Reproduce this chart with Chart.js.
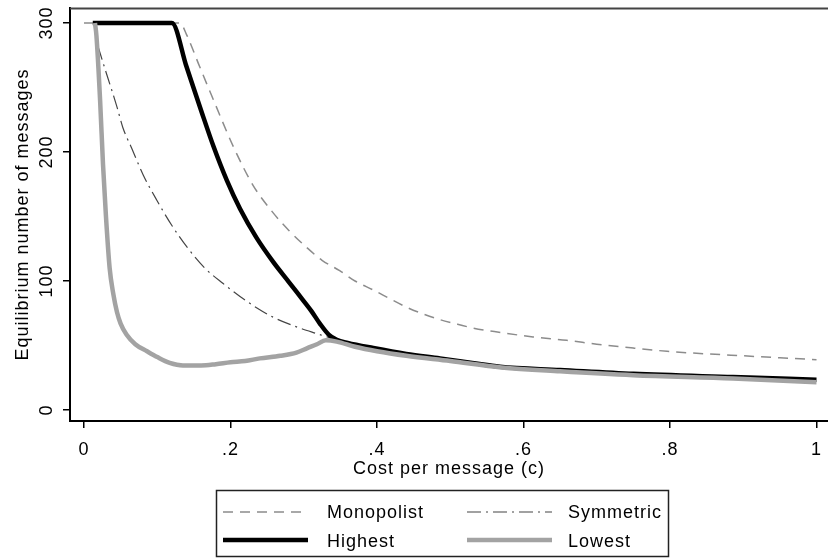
<!DOCTYPE html>
<html>
<head>
<meta charset="utf-8">
<script src="https://cdn.jsdelivr.net/npm/chart.js@4.4.1/dist/chart.umd.min.js"></script>
<style>
    body { margin: 0; background: #fff; }
    #wrap { width: 828px; height: 559px; }
</style>
</head>
<body>
<div id="wrap"><canvas id="chart" width="828" height="559"></canvas></div>
<script>
// values
var monoC = [0, 0.131, 0.14, 0.158, 0.177, 0.204, 0.231, 0.258, 0.28, 0.304, 0.325, 0.349, 0.37, 0.395, 0.42, 0.441, 0.465, 0.486, 0.51, 0.531, 0.57, 0.613, 0.659, 0.7, 0.75, 0.796, 0.85, 0.9, 0.95, 1.0];
var monoV = [300, 300, 291, 266, 240, 204, 174, 153, 139, 126, 116, 108, 100, 93, 85.5, 79.5, 74, 70, 66.5, 63.5, 60, 56.6, 54, 51, 48, 45.5, 43.5, 42, 40.5, 39];

var symC = [0.019, 0.03, 0.045, 0.053, 0.065, 0.081, 0.1, 0.12, 0.141, 0.165, 0.19, 0.213, 0.235, 0.258, 0.285, 0.313, 0.33, 0.36, 0.395, 0.44, 0.486, 0.568, 0.65, 0.75, 0.886, 1.0];
var symV = [282, 262, 235, 219, 203, 182, 162, 143, 126, 110, 98, 88, 79.5, 72, 65.5, 60, 57, 51.5, 48, 43.5, 40, 33.5, 31, 28, 25.5, 23.5];

var highC = [0.012, 0.12, 0.14, 0.16, 0.177, 0.195, 0.213, 0.235, 0.258, 0.28, 0.295, 0.31, 0.322, 0.334, 0.345, 0.36, 0.395, 0.44, 0.486, 0.53, 0.568, 0.65, 0.75, 0.886, 1.0];
var highV = [300, 300, 266, 232, 204, 178, 156, 134, 115, 99, 88, 77, 67, 58.5, 54.5, 52, 48, 43.5, 40, 36.5, 33.5, 31, 28, 25.5, 23.5];

var lowC = [0.015, 0.017, 0.022, 0.026, 0.03, 0.035, 0.04, 0.045, 0.05, 0.058, 0.07, 0.086, 0.1, 0.117, 0.135, 0.16, 0.18, 0.2, 0.22, 0.24, 0.268, 0.29, 0.305, 0.318, 0.33, 0.345, 0.37, 0.4, 0.44, 0.5, 0.57, 0.65, 0.75, 0.886, 1.0];
var lowV = [300, 290, 240, 190, 150, 110, 90, 76, 67, 58.5, 51, 45.5, 41, 36.5, 34.5, 34.5, 35.5, 37, 38, 40, 42, 44.5, 48, 51, 54, 53, 49, 45.5, 42, 38, 33, 30, 27, 24.5, 21.5];

var xTicks = [0, 0.2, 0.4, 0.6, 0.8, 1];
var xLabels = ['0', '.2', '.4', '.6', '.8', '1'];
var yTicks = [0, 100, 200, 300];
var yLabels = ['0', '100', '200', '300'];

var FONT = '18px "Liberation Sans", Arial, sans-serif';

function pts(cs, vs) {
    return cs.map(function(c, i) { return { x: c, y: vs[i] }; });
}

// styles shared by the plot and the legend
var styles = {
    mono: { color: '#8c8c8c', width: 1.5, dash: [10, 7] },
    sym: { color: '#444', width: 1.2, dash: [14, 5, 2, 5] },
    high: { color: '#000', width: 4.5, dash: [] },
    low: { color: '#a3a3a3', width: 4.5, dash: [] }
};

function sample(ctx, st, x1, x2, y) {
    ctx.save();
    ctx.strokeStyle = st.color;
    ctx.lineWidth = st.width;
    ctx.setLineDash(st.dash);
    ctx.beginPath();
    ctx.moveTo(x1, y);
    ctx.lineTo(x2, y);
    ctx.stroke();
    ctx.restore();
}

var stataText = {
    id: 'stataText',
    afterDraw: function(chart) {
        var ctx = chart.ctx;
        var xs = chart.scales.x, ys = chart.scales.y, a = chart.chartArea;
        ctx.save();

        // top border of plot region
        ctx.strokeStyle = '#444';
        ctx.lineWidth = 2;
        ctx.beginPath();
        ctx.moveTo(a.left, a.top + 0.5);
        ctx.lineTo(chart.width, a.top + 0.5);
        ctx.stroke();

        ctx.letterSpacing = '1px';
        ctx.font = FONT;
        ctx.fillStyle = '#000';
        ctx.textBaseline = 'alphabetic';

        // y tick labels, turned
        yTicks.forEach(function(v, i) {
            ctx.save();
            ctx.translate(52, ys.getPixelForValue(v));
            ctx.rotate(-Math.PI / 2);
            ctx.textAlign = 'center';
            ctx.fillText(yLabels[i], 0, 0);
            ctx.restore();
        });

        // y title
        ctx.save();
        ctx.translate(28, (a.top + a.bottom) / 2);
        ctx.rotate(-Math.PI / 2);
        ctx.textAlign = 'center';
        ctx.fillText('Equilibrium number of messages', 0, 0);
        ctx.restore();

        // x tick labels + title
        ctx.textAlign = 'center';
        xTicks.forEach(function(v, i) {
            ctx.fillText(xLabels[i], xs.getPixelForValue(v), 455);
        });
        ctx.fillText('Cost per message (c)', (a.left + chart.width) / 2, 474);

        // legend
        ctx.strokeStyle = '#222';
        ctx.lineWidth = 1.5;
        ctx.strokeRect(216.5, 490.5, 452, 66);
        sample(ctx, styles.mono, 223, 308, 512);
        sample(ctx, styles.sym, 467, 552, 512);
        sample(ctx, styles.high, 223, 308, 540);
        sample(ctx, styles.low, 467, 552, 540);
        ctx.textAlign = 'left';
        ctx.fillText('Monopolist', 327, 518);
        ctx.fillText('Symmetric', 568, 518);
        ctx.fillText('Highest', 327, 547);
        ctx.fillText('Lowest', 568, 547);

        ctx.restore();
    }
};

function ds(label, data, st, order) {
    return {
        label: label,
        data: data,
        borderColor: st.color,
        borderWidth: st.width,
        borderDash: st.dash,
        pointRadius: 0,
        fill: false,
        cubicInterpolationMode: 'monotone',
        order: order
    };
}

new Chart(document.getElementById('chart'), {
    type: 'line',
    data: {
        datasets: [
            ds('Monopolist', pts(monoC, monoV), styles.mono, 4),
            ds('Symmetric', pts(symC, symV), styles.sym, 3),
            ds('Highest', pts(highC, highV), styles.high, 2),
            ds('Lowest', pts(lowC, lowV), styles.low, 1)
        ]
    },
    options: {
        responsive: false,
        animation: false,
        layout: { padding: { top: 8, right: 0, left: 0, bottom: 0 } },
        plugins: {
            legend: { display: false },
            tooltip: { enabled: false }
        },
        scales: {
            x: {
                type: 'linear',
                min: -0.0191,
                max: 1.0157,
                afterBuildTicks: function(scale) {
                    scale.ticks = xTicks.map(function(v) { return { value: v }; });
                },
                afterFit: function(scale) {
                    scale.height = 138;
                    scale.paddingLeft = 0;
                    scale.paddingRight = 0;
                },
                ticks: { display: false },
                grid: { drawOnChartArea: false, drawTicks: true, tickLength: 7, color: '#000', lineWidth: 1.5 },
                border: { display: true, color: '#000', width: 2 }
            },
            y: {
                min: -8.53,
                max: 311.6,
                afterBuildTicks: function(scale) {
                    scale.ticks = yTicks.map(function(v) { return { value: v }; });
                },
                afterFit: function(scale) {
                    scale.width = 70;
                    scale.paddingTop = 0;
                    scale.paddingBottom = 0;
                },
                ticks: { display: false },
                grid: { drawOnChartArea: false, drawTicks: true, tickLength: 7, color: '#000', lineWidth: 1.5 },
                border: { display: true, color: '#000', width: 2 }
            }
        }
    },
    plugins: [stataText]
});
</script>
</body>
</html>
